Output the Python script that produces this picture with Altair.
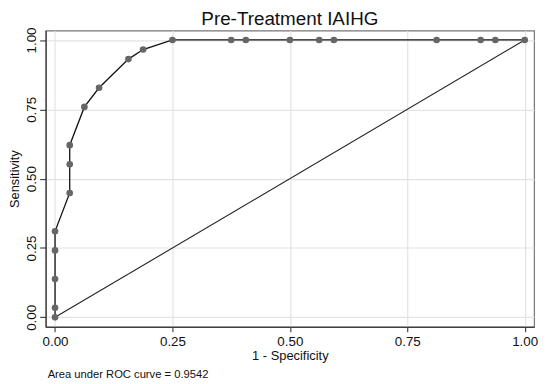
import altair as alt
import pandas as pd

# ROC points (1 - specificity, sensitivity)
fpr = [0.0, 0.0, 0.0, 0.0, 0.0, 0.03125, 0.03125, 0.03125, 0.0625, 0.09375,
       0.15625, 0.1875, 0.25, 0.375, 0.40625, 0.5, 0.5625, 0.59375, 0.8125,
       0.90625, 0.9375, 1.0]
tpr = [0.0, 1/29, 4/29, 7/29, 9/29, 13/29, 16/29, 18/29, 22/29, 24/29,
       27/29, 28/29, 1.0, 1.0, 1.0, 1.0, 1.0, 1.0, 1.0,
       1.0, 1.0, 1.0]
ref_x = [0.0, 1.0]
ref_y = [0.0, 1.0]
ticks = [0.0, 0.25, 0.5, 0.75, 1.0]
title_text = "Pre-Treatment IAIHG"
footnote = "Area under ROC curve = 0.9542"

df = pd.DataFrame({"x": fpr, "y": tpr, "order": list(range(len(fpr)))})
ref = pd.DataFrame({"x": ref_x, "y": ref_y})
note = pd.DataFrame({"t": [footnote]})

FONT = "Liberation Sans"
W, H = 493, 299

xs = alt.Scale(domain=[-0.02, 1.02], nice=False, zero=False)
ys = alt.Scale(domain=[-0.034, 1.034], nice=False, zero=False)

xax = alt.Axis(values=ticks, format=".2f", title="1 - Specificity",
               labelFontSize=13.5, titleFontSize=13, titleFontWeight="normal",
               labelColor="#111", titleColor="#111", tickColor="#222",
               domainColor="#222", tickSize=5, labelPadding=3, titlePadding=2,
               gridColor="#e3e3e3", gridWidth=1.2)
yax = alt.Axis(values=ticks, format=".2f", title="Sensitivity",
               labelAngle=-90, labelAlign="center", labelBaseline="bottom",
               labelFontSize=13.5, titleFontSize=13, titleFontWeight="normal",
               labelColor="#111", titleColor="#111", tickColor="#222",
               domainColor="#222", tickSize=6, labelPadding=1, titlePadding=3,
               gridColor="#e3e3e3", gridWidth=1.2)

diag = alt.Chart(ref).mark_line(color="#222", strokeWidth=1.1).encode(
    x=alt.X("x:Q", scale=xs, axis=xax),
    y=alt.Y("y:Q", scale=ys, axis=yax),
)

curve = alt.Chart(df).mark_line(color="#111", strokeWidth=1.3).encode(
    x=alt.X("x:Q", scale=xs),
    y=alt.Y("y:Q", scale=ys),
    order="order:Q",
)

pts = alt.Chart(df).mark_circle(color="#666666", opacity=1, size=45).encode(
    x=alt.X("x:Q", scale=xs),
    y=alt.Y("y:Q", scale=ys),
)

txt = alt.Chart(note).mark_text(align="left", baseline="middle", fontSize=11.3,
                                font=FONT, color="#111").encode(
    text="t:N",
    x=alt.value(2),
    y=alt.value(H + 49),
)

chart = alt.layer(diag, curve, pts, txt).properties(
    width=W, height=H,
    title=alt.TitleParams(title_text, fontSize=19, fontWeight="normal",
                          font=FONT, color="#111", offset=-5, dy=-3,
                          anchor="middle"),
    padding={"left": 1, "right": 4, "top": 0, "bottom": 0},
).configure_view(stroke="#777", strokeWidth=1.2).configure_axis(
    labelFont=FONT, titleFont=FONT
)

chart.save("out.html", embed_options={"renderer": "svg", "actions": False})
